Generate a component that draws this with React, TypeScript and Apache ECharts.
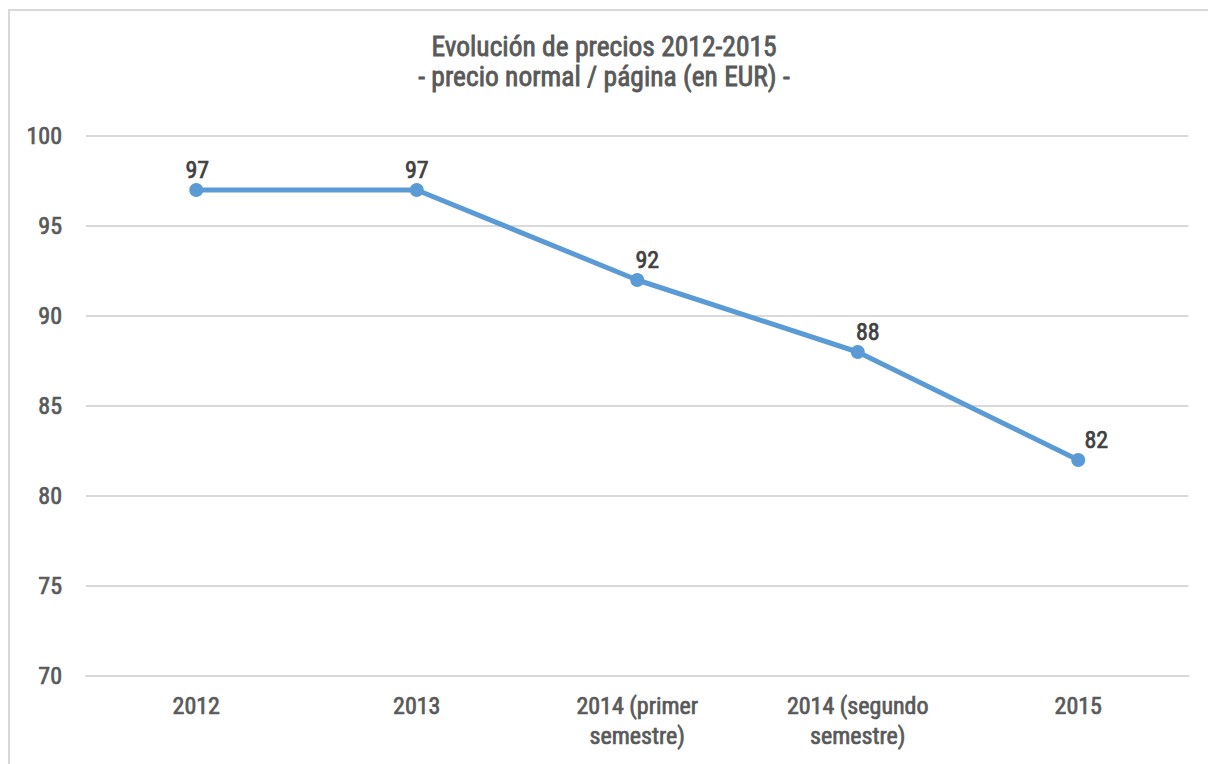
import React, { useEffect, useRef } from "react";
import * as echarts from "echarts";

const categories = ["2012", "2013", "2014 (primer\nsemestre)", "2014 (segundo\nsemestre)", "2015"];
const prices = [97, 97, 92, 88, 82];
const titleLines = ["Evolución de precios 2012-2015", "- precio normal / página (en EUR) -"];

const FONT = "'Roboto Condensed', 'Liberation Sans Narrow', 'Arial Narrow', sans-serif";

export default function App() {
  const ref = useRef<HTMLDivElement>(null);
  useEffect(() => {
    document.body.style.margin = "0";
    document.body.style.overflow = "hidden";
    const chart = echarts.init(ref.current!, undefined, { renderer: "svg" });
    const labelDx = [1, 0, 10, 10, 18];
    const thick = (c: string, w = 0.7) => ({ textBorderColor: c, textBorderWidth: w });
    chart.setOption({
      animation: false,
      backgroundColor: "#ffffff",
      title: titleLines.map((t, i) => ({
        text: t,
        left: "center",
        top: 32.5 + i * 30,
        padding: 0,
        textStyle: {
          fontFamily: FONT,
          fontSize: 27.5,
          fontWeight: "normal",
          color: "#595959",
          lineHeight: 27,
          ...thick("#595959", 0.8),
        },
      })),
      graphic: [
        {
          type: "rect",
          shape: { x: 9, y: 10, width: 1400, height: 1000 },
          style: { fill: "none", stroke: "#d9d9d9", lineWidth: 2 },
          silent: true,
        },
      ],
      grid: { left: 86, right: 19.5, top: 136, bottom: 88 },
      xAxis: {
        type: "category",
        data: categories,
        boundaryGap: true,
        axisLine: { show: true, lineStyle: { color: "#d9d9d9", width: 2 } },
        axisTick: { show: false },
        axisLabel: {
          fontFamily: FONT,
          fontSize: 24,
          fontWeight: "normal",
          color: "#595959",
          margin: 15,
          lineHeight: 30,
          interval: 0,
          ...thick("#595959"),
        },
      },
      yAxis: {
        type: "value",
        min: 70,
        max: 100,
        interval: 5,
        axisLine: { show: false },
        axisTick: { show: false },
        splitLine: { lineStyle: { color: "#d9d9d9", width: 2 } },
        axisLabel: {
          fontFamily: FONT,
          fontSize: 24,
          fontWeight: "normal",
          color: "#595959",
          margin: 24,
          ...thick("#595959"),
        },
      },
      series: [
        {
          type: "line",
          data: prices.map((v, i) => ({
            value: v,
            label: { offset: [labelDx[i], 0] },
          })),
          lineStyle: { color: "#5b9bd5", width: 5 },
          itemStyle: { color: "#5b9bd5" },
          symbol: "circle",
          symbolSize: 14,
          label: {
            show: true,
            position: "top",
            distance: 1,
            fontFamily: FONT,
            fontSize: 24,
            fontWeight: "normal",
            color: "#404040",
            ...thick("#404040"),
          },
        },
      ],
    });
    return () => chart.dispose();
  }, []);
  return <div ref={ref} style={{ width: 1208, height: 764 }} />;
}
